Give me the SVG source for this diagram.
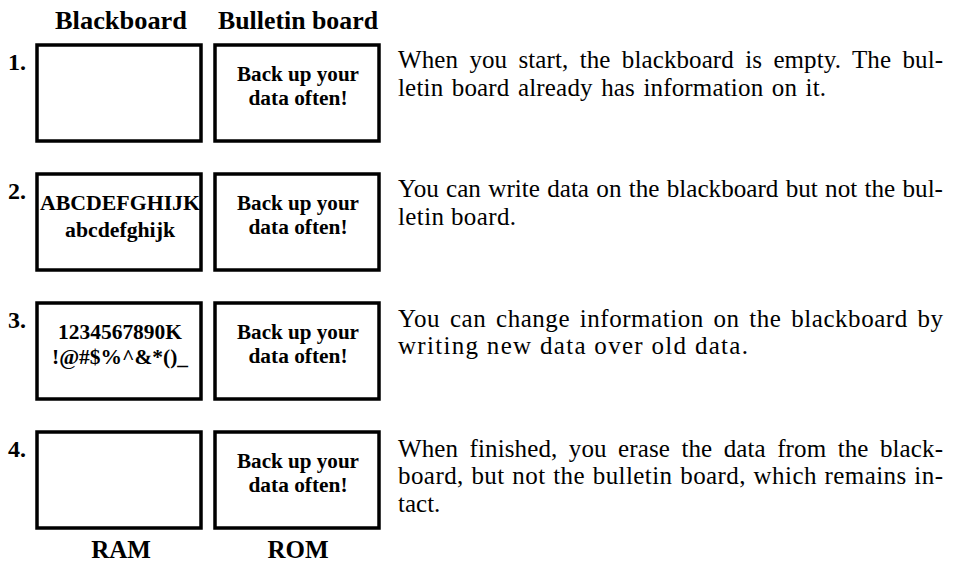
<svg xmlns="http://www.w3.org/2000/svg" width="957" height="566" viewBox="0 0 957 566">
<style>
.hdr{font-family:"Liberation Serif",serif;font-weight:bold;font-size:25px;fill:#000;text-anchor:middle}
.num{font-family:"Liberation Serif",serif;font-weight:bold;font-size:24px;fill:#000}
.box{fill:#fff;stroke:#000;stroke-width:3.5}
.in{font-family:"Liberation Serif",serif;font-weight:bold;font-size:20px;fill:#000;text-anchor:middle}
.p{font-family:"Liberation Serif",serif;font-size:25px;fill:#000}
</style>
<rect width="957" height="566" fill="#fff"/>
<text class="hdr" x="121" y="29" textLength="132" lengthAdjust="spacingAndGlyphs">Blackboard</text>
<text class="hdr" x="298" y="29" textLength="160" lengthAdjust="spacingAndGlyphs">Bulletin board</text>
<g id="row1">
<text class="num" x="8" y="70">1.</text>
<g id="ram1"><rect class="box" x="37" y="45" width="164" height="96"/></g>
<g id="rom1"><rect class="box" x="215" y="45" width="164" height="96"/>
<text class="in" x="298" y="81" textLength="122" lengthAdjust="spacingAndGlyphs">Back up your</text>
<text class="in" x="298" y="105" textLength="99" lengthAdjust="spacingAndGlyphs">data often!</text></g>
<text class="p" x="398" y="68" word-spacing="5" textLength="545" lengthAdjust="spacing">When you start, the blackboard is empty. The bul-</text>
<text class="p" x="398" y="95.5" word-spacing="2" textLength="428" lengthAdjust="spacing">letin board already has information on it.</text>
</g>
<g id="row2">
<text class="num" x="8" y="199">2.</text>
<g id="ram2"><rect class="box" x="37" y="174" width="164" height="96"/>
<text class="in" x="120" y="210" textLength="160" lengthAdjust="spacingAndGlyphs">ABCDEFGHIJK</text>
<text class="in" x="120" y="237" textLength="110" lengthAdjust="spacingAndGlyphs">abcdefghijk</text></g>
<g id="rom2"><rect class="box" x="215" y="174" width="164" height="96"/>
<text class="in" x="298" y="210" textLength="122" lengthAdjust="spacingAndGlyphs">Back up your</text>
<text class="in" x="298" y="234" textLength="99" lengthAdjust="spacingAndGlyphs">data often!</text></g>
<text class="p" x="398" y="197" word-spacing="1" textLength="545" lengthAdjust="spacingAndGlyphs">You can write data on the blackboard but not the bul-</text>
<text class="p" x="398" y="224.5" textLength="118" lengthAdjust="spacing">letin board.</text>
</g>
<g id="row3">
<text class="num" x="8" y="328">3.</text>
<g id="ram3"><rect class="box" x="37" y="303" width="164" height="96"/>
<text class="in" x="120" y="339" textLength="124" lengthAdjust="spacingAndGlyphs">1234567890K</text>
<text class="in" x="120" y="364" textLength="136" lengthAdjust="spacingAndGlyphs">!@#$%^&amp;*()_</text></g>
<g id="rom3"><rect class="box" x="215" y="303" width="164" height="96"/>
<text class="in" x="298" y="339" textLength="122" lengthAdjust="spacingAndGlyphs">Back up your</text>
<text class="in" x="298" y="363" textLength="99" lengthAdjust="spacingAndGlyphs">data often!</text></g>
<text class="p" x="398" y="326.5" word-spacing="3" textLength="545" lengthAdjust="spacing">You can change information on the blackboard by</text>
<text class="p" x="398" y="354" textLength="350" lengthAdjust="spacing">writing new data over old data.</text>
</g>
<g id="row4">
<text class="num" x="8" y="457">4.</text>
<g id="ram4"><rect class="box" x="37" y="432" width="164" height="96"/></g>
<g id="rom4"><rect class="box" x="215" y="432" width="164" height="96"/>
<text class="in" x="298" y="468" textLength="122" lengthAdjust="spacingAndGlyphs">Back up your</text>
<text class="in" x="298" y="492" textLength="99" lengthAdjust="spacingAndGlyphs">data often!</text></g>
<text class="p" x="398" y="456.5" word-spacing="5" textLength="545" lengthAdjust="spacing">When finished, you erase the data from the black-</text>
<text class="p" x="398" y="484" word-spacing="1" textLength="545" lengthAdjust="spacing">board, but not the bulletin board, which remains in-</text>
<text class="p" x="398" y="511.5">tact.</text>
</g>
<text class="hdr" x="121" y="558">RAM</text>
<text class="hdr" x="298" y="558">ROM</text>
</svg>
